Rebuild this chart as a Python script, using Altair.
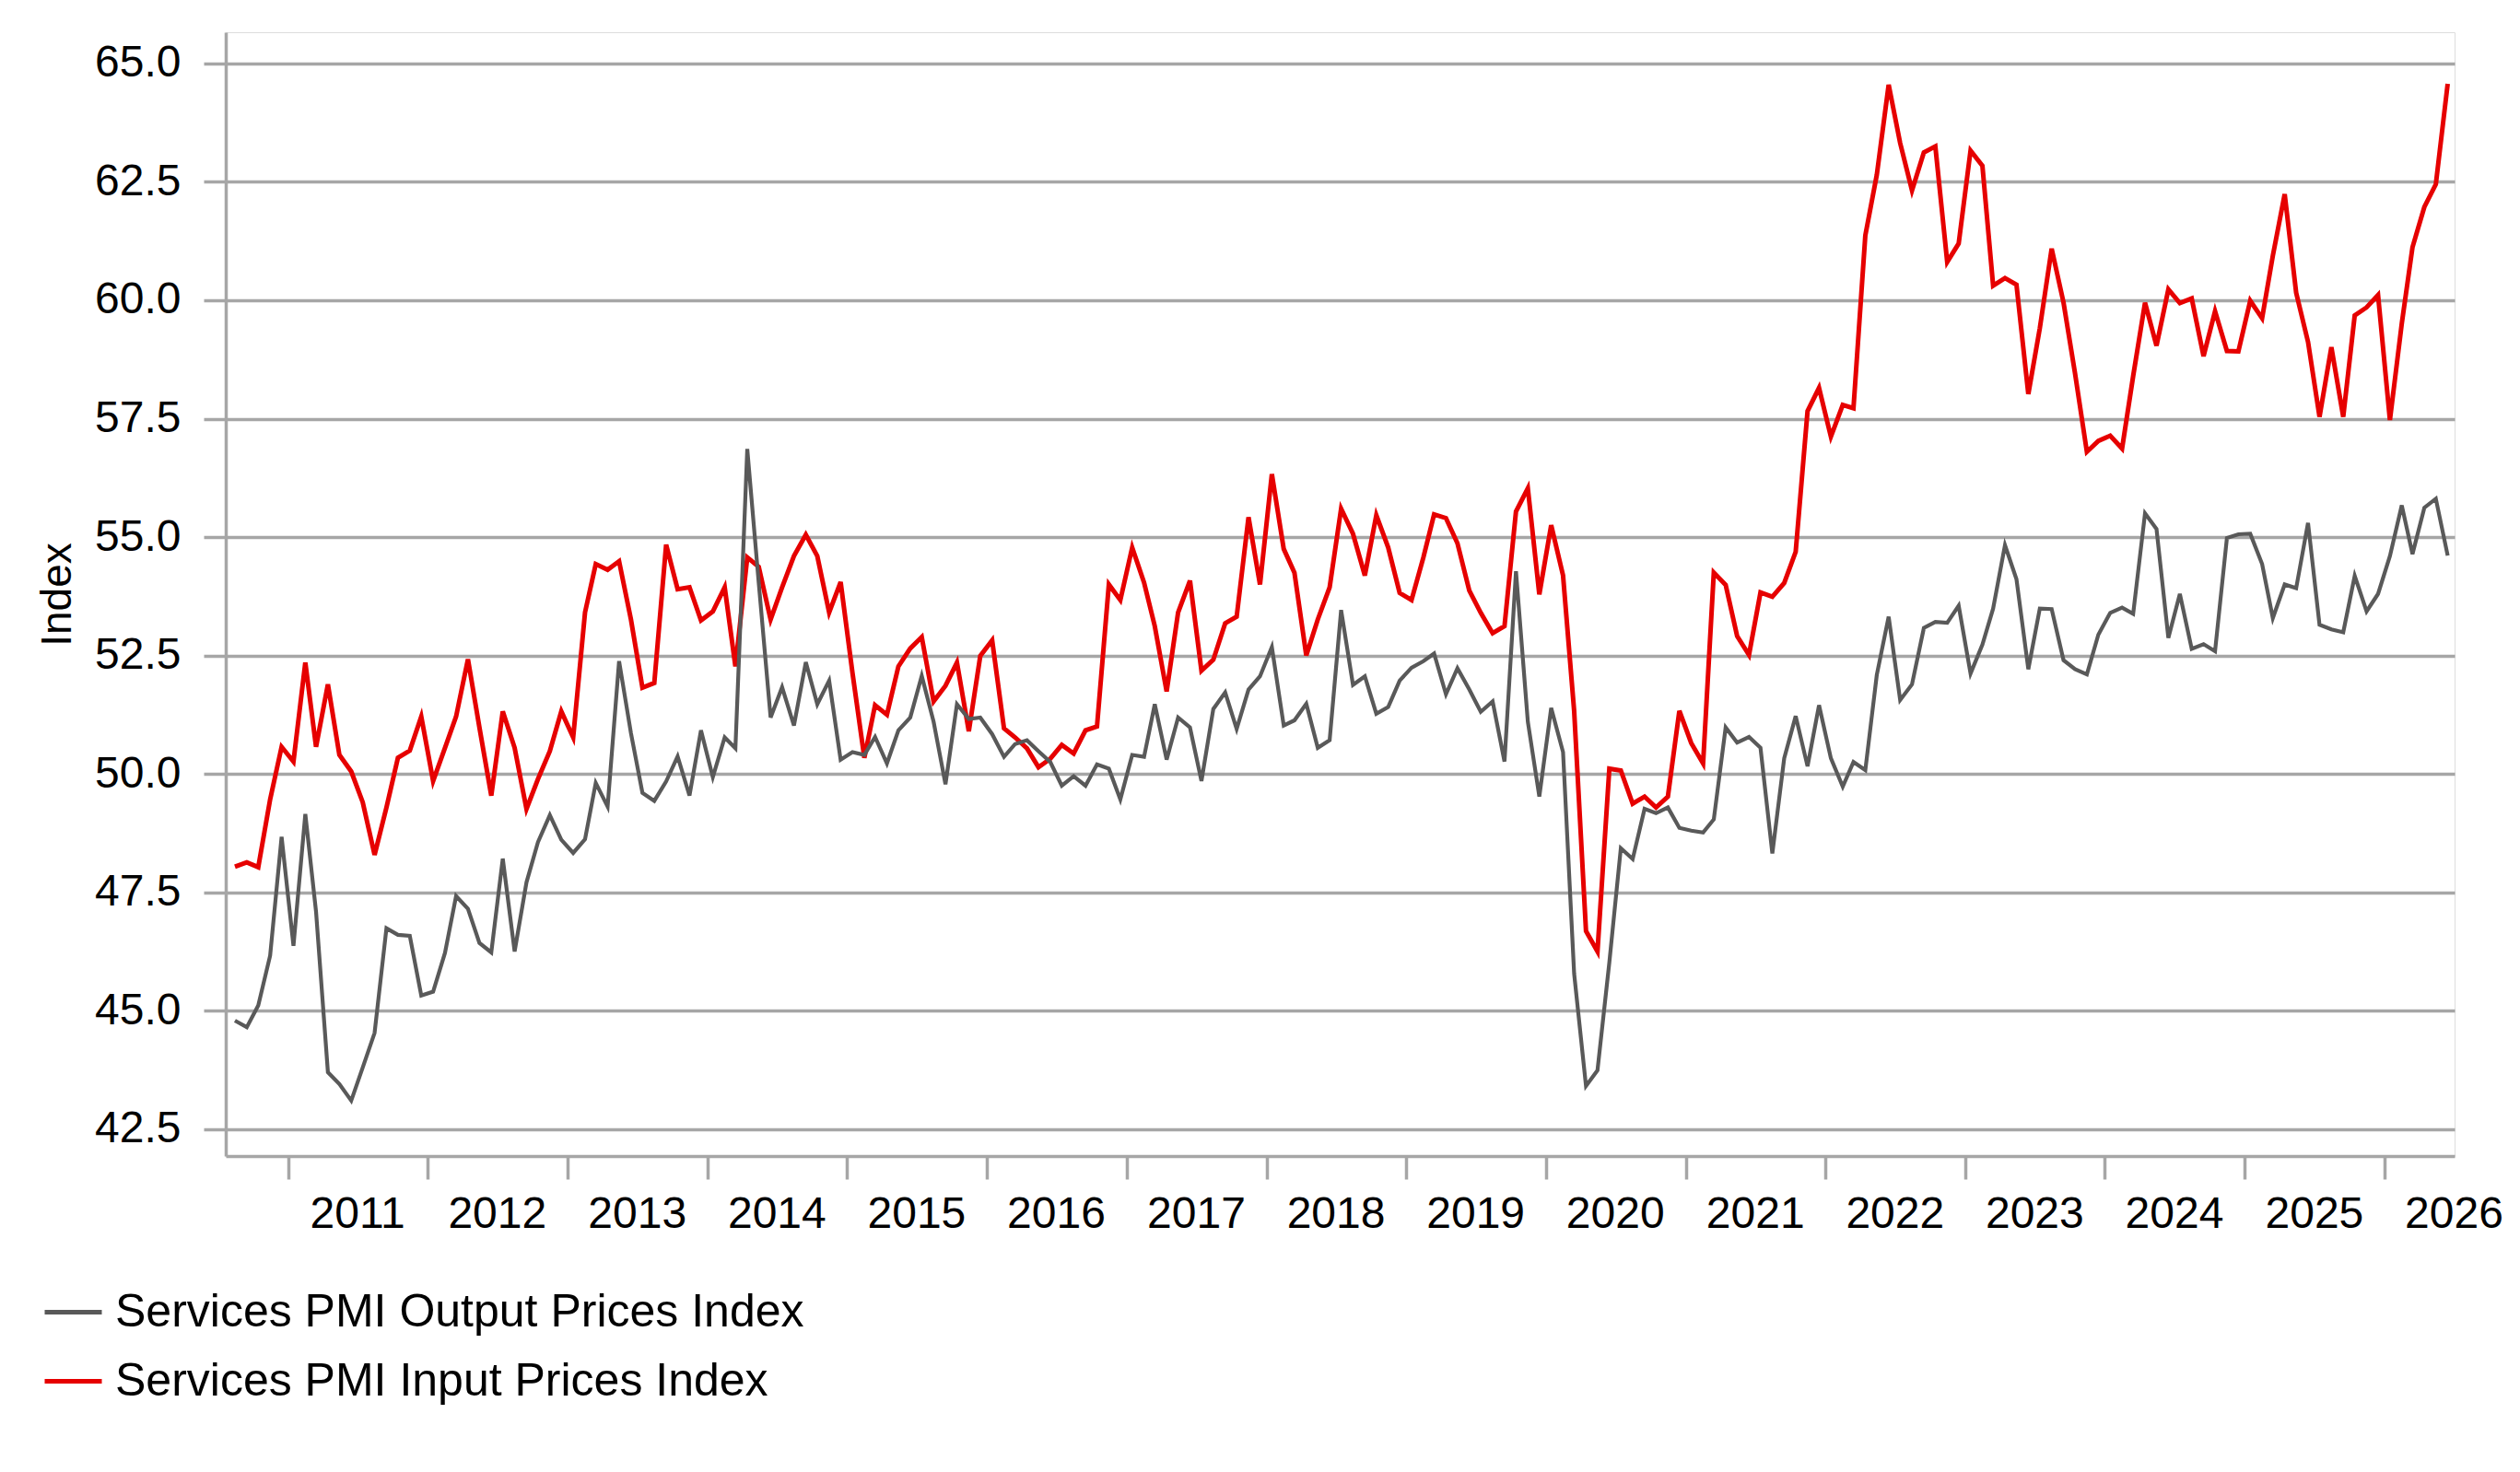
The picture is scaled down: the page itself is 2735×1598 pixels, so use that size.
import altair as alt
import pandas as pd

# Monthly observations, first month Aug 2010 (plotted mid-month)
start_month = "2010-08-01"

output_prices = [
    44.79, 44.65, 45.11, 46.16, 48.67, 46.37, 49.15, 47.09, 43.70, 43.45,
    43.10, 43.80, 44.53, 46.74, 46.60, 46.58, 45.32, 45.40, 46.22, 47.42,
    47.15, 46.43, 46.23, 48.21, 46.25, 47.71, 48.56, 49.13, 48.61, 48.33,
    48.62, 49.81, 49.31, 52.38, 50.86, 49.60, 49.43, 49.84, 50.37, 49.54,
    50.92, 49.93, 50.77, 50.54, 56.86, 54.03, 51.19, 51.83, 51.02, 52.36,
    51.47, 51.97, 50.30, 50.46, 50.40, 50.78, 50.22, 50.92, 51.19, 52.07,
    51.10, 49.78, 51.47, 51.16, 51.19, 50.84, 50.36, 50.63, 50.71, 50.48,
    50.25, 49.75, 49.95, 49.75, 50.20, 50.11, 49.46, 50.40, 50.36, 51.47,
    50.30, 51.19, 50.98, 49.85, 51.37, 51.72, 50.95, 51.78, 52.06, 52.68,
    51.02, 51.13, 51.48, 50.55, 50.71, 53.46, 51.88, 52.06, 51.27, 51.41,
    51.97, 52.24, 52.38, 52.54, 51.68, 52.23, 51.78, 51.31, 51.53, 50.26,
    54.28, 51.10, 49.52, 51.39, 50.46, 45.78, 43.41, 43.74, 46.02, 48.43,
    48.20, 49.26, 49.17, 49.29, 48.86, 48.80, 48.76, 49.04, 50.98, 50.66,
    50.78, 50.55, 48.32, 50.33, 51.22, 50.16, 51.45, 50.33, 49.73, 50.25,
    50.08, 52.09, 53.32, 51.56, 51.89, 53.08, 53.21, 53.19, 53.55, 52.12,
    52.73, 53.49, 54.83, 54.11, 52.21, 53.49, 53.48, 52.40, 52.21, 52.10,
    52.94, 53.40, 53.51, 53.38, 55.50, 55.17, 52.87, 53.80, 52.64, 52.74,
    52.59, 54.98, 55.06, 55.07, 54.43, 53.29, 54.00, 53.92, 55.30, 53.15,
    53.05, 52.99, 54.18, 53.43, 53.80, 54.60, 55.67, 54.64, 55.62, 55.81,
    54.61,
]

input_prices = [
    48.04, 48.13, 48.03, 49.46, 50.57, 50.26, 52.35, 50.57, 51.89, 50.40,
    50.05, 49.40, 48.29, 49.29, 50.34, 50.49, 51.21, 49.85, 50.55, 51.21,
    52.42, 50.98, 49.54, 51.32, 50.55, 49.26, 49.89, 50.48, 51.32, 50.77,
    53.41, 54.43, 54.31, 54.49, 53.26, 51.82, 51.92, 54.84, 53.90, 53.94,
    53.24, 53.43, 53.94, 52.27, 54.57, 54.37, 53.26, 53.94, 54.60, 55.05,
    54.60, 53.41, 54.05, 52.13, 50.34, 51.45, 51.25, 52.27, 52.65, 52.89,
    51.53, 51.86, 52.35, 50.90, 52.49, 52.82, 50.96, 50.77, 50.54, 50.14,
    50.32, 50.61, 50.43, 50.92, 51.00, 54.00, 53.67, 54.78, 54.04, 53.12,
    51.74, 53.41, 54.08, 52.18, 52.41, 53.18, 53.32, 55.42, 54.00, 56.33,
    54.75, 54.25, 52.50, 53.26, 53.94, 55.60, 55.07, 54.19, 55.46, 54.78,
    53.82, 53.67, 54.57, 55.48, 55.40, 54.87, 53.87, 53.40, 52.97, 53.12,
    55.54, 56.03, 53.79, 55.25, 54.19, 51.33, 46.68, 46.25, 50.11, 50.07,
    49.37, 49.52, 49.29, 49.52, 51.33, 50.65, 50.22, 54.25, 53.99, 52.91,
    52.51, 53.83, 53.74, 54.03, 54.69, 57.66, 58.15, 57.12, 57.79, 57.72,
    61.37, 62.65, 64.55, 63.32, 62.32, 63.12, 63.25, 60.81, 61.20, 63.16,
    62.84, 60.31, 60.47, 60.33, 58.02, 59.41, 61.09, 59.95, 58.46, 56.80,
    57.03, 57.14, 56.87, 58.40, 59.95, 59.04, 60.23, 59.94, 60.04, 58.82,
    59.77, 58.93, 58.92, 59.99, 59.62, 60.94, 62.24, 60.16, 59.12, 57.54,
    59.01, 57.54, 59.68, 59.85, 60.11, 57.47, 59.51, 61.12, 61.97, 62.45,
    64.57,
]

series_names = ["Services PMI Output Prices Index", "Services PMI Input Prices Index"]
series_colors = ["#595959", "#E60000"]
y_ticks = [42.5, 45.0, 47.5, 50.0, 52.5, 55.0, 57.5, 60.0, 62.5, 65.0]
year_ticks = list(range(2011, 2027))

dates = (pd.date_range(start_month, periods=len(output_prices), freq="MS")
         + pd.Timedelta(days=14)).strftime("%Y-%m-%d")

df = pd.concat([
    pd.DataFrame({"date": dates, "value": output_prices, "series": series_names[0]}),
    pd.DataFrame({"date": dates, "value": input_prices, "series": series_names[1]}),
])

FONT = "Liberation Sans"
GRID = "#A6A6A6"

x_enc = alt.X(
    "date:T",
    scale=alt.Scale(
        type="utc",
        domain=[alt.DateTime(year=2010, month=7, date=22, utc=True),
                alt.DateTime(year=2026, month=7, date=3, utc=True)],
        nice=False,
    ),
    axis=alt.Axis(
        title=None,
        values=[alt.DateTime(year=y, month=1, date=1, utc=True) for y in year_ticks],
        labelExpr="utcFormat(datum.value, '%Y')",
        grid=False,
        ticks=True,
        tickSize=25,
        tickWidth=3.5,
        tickColor=GRID,
        domainColor=GRID,
        domainWidth=3.5,
        labelOffset=75,
        labelPadding=14,
        labelFlush=False,
        labelOverlap=False,
        labelBound=False,
        labelFontSize=48,
        labelFont=FONT,
        labelColor="#000000",
    ),
)

y_enc = alt.Y(
    "value:Q",
    scale=alt.Scale(domain=[41.93, 65.66], nice=False, zero=False),
    axis=alt.Axis(
        title="Index",
        titleFont=FONT,
        titleFontSize=46,
        titleFontWeight="normal",
        titleColor="#000000",
        titlePadding=16,
        values=y_ticks,
        format=".1f",
        grid=True,
        gridColor=GRID,
        gridWidth=3.5,
        tickSize=24,
        tickWidth=3.5,
        tickColor=GRID,
        domainColor=GRID,
        domainWidth=3.5,
        labelPadding=25,
        labelFontSize=48,
        labelFont=FONT,
        labelColor="#000000",
    ),
)

color_enc = alt.Color(
    "series:N",
    scale=alt.Scale(domain=series_names, range=series_colors),
    legend=alt.Legend(
        title=None,
        orient="none",
        legendX=-199,
        legendY=1356,
        direction="vertical",
        symbolType="stroke",
        symbolSize=3844,
        symbolStrokeWidth=5,
        labelFontSize=50,
        labelFont=FONT,
        labelColor="#000000",
        labelLimit=0,
        labelOffset=12,
        rowPadding=16,
        padding=0,
    ),
)

base = alt.Chart(df)
red = base.transform_filter(alt.datum.series == series_names[1]).mark_line(
    strokeWidth=5).encode(x=x_enc, y=y_enc, color=color_enc)
gray = base.transform_filter(alt.datum.series == series_names[0]).mark_line(
    strokeWidth=4.2).encode(x=x_enc, y=y_enc, color=color_enc)

chart = alt.layer(red, gray).properties(
    width=2419,
    height=1220,
    padding={"left": 237, "top": 27, "right": 55, "bottom": 320},
    autosize=alt.AutoSizeParams(type="none"),
).configure_view(strokeWidth=0).configure(background="white")

chart.save("out.html", embed_options={"renderer": "svg", "actions": False})
